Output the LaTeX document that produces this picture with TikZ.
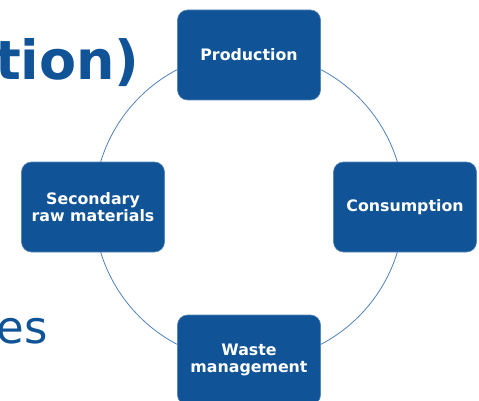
\documentclass[tikz,border=0pt]{standalone}
\usepackage{fontspec}
\setmainfont{DejaVu Sans}
\usetikzlibrary{positioning,backgrounds}
\definecolor{deepblue}{RGB}{16,83,150}
\definecolor{ringblue}{RGB}{79,129,189}

\begin{document}
\begin{tikzpicture}[
    x=1pt,y=-1pt,
    line width=0.8pt,
    %
    stage/.style={draw=deepblue!70!white, line width=0.6pt, fill=deepblue, rectangle,
                  rounded corners=10pt, minimum width=143pt, minimum height=90pt,
                  text=white, align=center, font=\fontsize{15.8}{17}\selectfont\bfseries},
    slidetext/.style={text=deepblue, inner sep=0pt},
    %
    ring/.style={draw=ringblue}
    ]
    \useasboundingbox (0,0) rectangle (479,401);
    \clip (0,0) rectangle (479,401);

    % cut-off slide text
    \node[slidetext, anchor=base east, font=\fontsize{54}{54}\selectfont\bfseries] (titlepart) at (140,80) {tion)};
    \node[slidetext, anchor=base east, font=\fontsize{45}{45}\selectfont] (bulletpart) at (48,343) {res};

    % cycle
    \coordinate (hub) at (249,207);
    \draw[ring] (hub) circle [radius=155];
    %
    \node[stage] (prod)  at (249,55)  {Production};
    \node[stage] (cons)  at (405,207) {Consumption};
    \node[stage] (waste) at (249,360) {Waste\\management};
    \node[stage] (sec)   at (93,207)  {Secondary\\raw materials};
    %
\end{tikzpicture}
\end{document}
